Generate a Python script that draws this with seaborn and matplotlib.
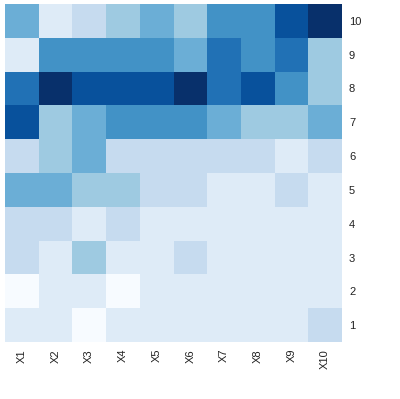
import numpy as np
import pandas as pd
import matplotlib
matplotlib.use("Agg")
import matplotlib.pyplot as plt
import seaborn as sns
from matplotlib.colors import ListedColormap

# colour level (0-8 on the Blues 9-step scale) per cell, rows top (10) to bottom (1)
cols = ['X1', 'X2', 'X3', 'X4', 'X5', 'X6', 'X7', 'X8', 'X9', 'X10']
rows = ['10', '9', '8', '7', '6', '5', '4', '3', '2', '1']
row10 = [4, 1, 2, 3, 4, 3, 5, 5, 7, 8]
row9 = [1, 5, 5, 5, 5, 4, 6, 5, 6, 3]
row8 = [6, 8, 7, 7, 7, 8, 6, 7, 5, 3]
row7 = [7, 3, 4, 5, 5, 5, 4, 3, 3, 4]
row6 = [2, 3, 4, 2, 2, 2, 2, 2, 1, 2]
row5 = [4, 4, 3, 3, 2, 2, 1, 1, 2, 1]
row4 = [2, 2, 1, 2, 1, 1, 1, 1, 1, 1]
row3 = [2, 1, 3, 1, 1, 2, 1, 1, 1, 1]
row2 = [0, 1, 1, 0, 1, 1, 1, 1, 1, 1]
row1 = [1, 1, 0, 1, 1, 1, 1, 1, 1, 2]

blues9 = ['#F7FBFF', '#DEEBF7', '#C6DBEF', '#9ECAE1', '#6BAED6',
          '#4292C6', '#2171B5', '#08519C', '#08306B']

df = pd.DataFrame([row10, row9, row8, row7, row6, row5, row4, row3, row2, row1],
                  index=rows, columns=cols)

plt.rcParams['font.family'] = ['Liberation Sans', 'DejaVu Sans']

fig = plt.figure(figsize=(4, 3.99), dpi=100)
ax = fig.add_axes([5 / 400, 1 - 342 / 399, 337 / 400, 338 / 399])
sns.heatmap(df, cmap=ListedColormap(blues9), vmin=-0.5, vmax=8.5,
            cbar=False, ax=ax, linewidths=0)

ax.yaxis.tick_right()
ax.tick_params(length=0, labelsize=8, colors='#222222', pad=5)
plt.setp(ax.get_yticklabels(), rotation=0, ha='left')
plt.setp(ax.get_xticklabels(), rotation=90, ha='center', va='top')
ax.set_xlabel('')
ax.set_ylabel('')

fig.savefig('out.png', dpi=100)
